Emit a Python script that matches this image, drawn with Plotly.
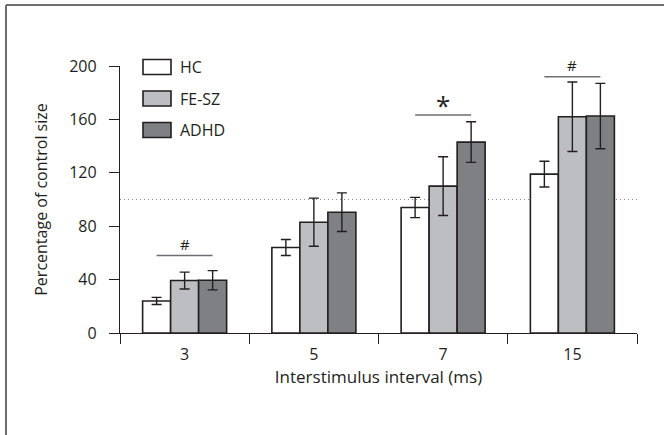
import plotly.graph_objects as go

categories = ["3", "5", "7", "15"]
groups = ["HC", "FE-SZ", "ADHD"]
hc = [24, 64, 94, 119]
hc_err = [2.7, 6, 7.6, 9.6]
fesz = [39.3, 83, 110, 162]
fesz_err = [6.3, 18, 22, 26]
adhd = [39.5, 90.5, 143, 162.5]
adhd_err = [7.2, 14.5, 15.2, 24.5]
sig_labels = ["#", "", "*", "#"]
sig_y = [58, None, 163.3, 192]
y_ticks = [0, 40, 80, 120, 160, 200]
reference_level = 100

INK = "#231f20"
FONT = "Open Sans"
colors = ["#ffffff", "#bdbec2", "#7f8084"]
values = [hc, fesz, adhd]
errors = [hc_err, fesz_err, adhd_err]
BARGAP = 0.35

fig = go.Figure()
for name, vals, errs, col in zip(groups, values, errors, colors):
    fig.add_trace(go.Bar(
        x=categories, y=vals, name=name,
        marker=dict(color=col, line=dict(color=INK, width=1.6)),
        error_y=dict(type="data", array=errs, visible=True,
                     color=INK, thickness=1.4, width=5),
        showlegend=False,
    ))

shapes = []
annotations = []
bw = (1 - BARGAP) / 3
for i, (lab, yv) in enumerate(zip(sig_labels, sig_y)):
    if yv is None:
        continue
    shapes.append(dict(type="line", xref="x", yref="y", x0=i - bw, x1=i + bw,
                       y0=yv, y1=yv, line=dict(color="#6d6e71", width=1.5)))
    if lab == "*":
        annotations.append(dict(x=i, y=yv, xref="x", yref="y", text=lab,
                                showarrow=False, yanchor="bottom", yshift=-10,
                                font=dict(family=FONT, size=26, color=INK)))
    else:
        annotations.append(dict(x=i, y=yv, xref="x", yref="y", text=lab,
                                showarrow=False, yanchor="bottom", yshift=0,
                                font=dict(family=FONT, size=15, color=INK)))

# reference dotted line
shapes.append(dict(type="line", xref="paper", yref="y", x0=0, x1=1,
                   y0=reference_level, y1=reference_level,
                   line=dict(color="#8a8a8a", width=1.2, dash="1px,3px"), layer="below"))

# custom legend
L, T = 120, 66
W, H = 517, 267
def px(xp):
    return (xp - L) / W
def py(yp):
    return (T + H - yp) / H
leg_y = [67, 98.5, 130]
for name, col, yc in zip(groups, colors, leg_y):
    shapes.append(dict(type="rect", xref="paper", yref="paper",
                       x0=px(143), x1=px(171), y0=py(yc - 7.5), y1=py(yc + 7.5),
                       fillcolor=col, line=dict(color=INK, width=1.6)))
    annotations.append(dict(x=px(178), y=py(yc), xref="paper", yref="paper",
                            text=name, showarrow=False, xanchor="left", yanchor="middle",
                            font=dict(family=FONT, size=16, color=INK)))

# frame (left and top edges)
shapes.append(dict(type="line", xref="paper", yref="paper", x0=px(6), x1=px(6),
                   y0=py(5), y1=py(440), line=dict(color="#6d6e71", width=2)))
shapes.append(dict(type="line", xref="paper", yref="paper", x0=px(6), x1=px(670),
                   y0=py(5), y1=py(5), line=dict(color="#6d6e71", width=2)))

fig.update_layout(
    width=664, height=435,
    margin=dict(l=L, r=664 - L - W, t=T, b=435 - T - H, autoexpand=False),
    paper_bgcolor="white", plot_bgcolor="white",
    barmode="group", bargap=BARGAP, bargroupgap=0,
    font=dict(family=FONT, size=16, color=INK),
    shapes=shapes, annotations=annotations,
    xaxis=dict(type="category", range=[-0.5, 3.5], tickson="boundaries",
               ticks="outside", ticklen=10, tickwidth=1.3, tickcolor=INK,
               showline=True, linecolor=INK, linewidth=1.3, showgrid=False,
               zeroline=False, tickfont=dict(size=16), ticklabelstandoff=7,
               title=dict(text="Interstimulus interval (ms)", standoff=6,
                          font=dict(size=17))),
    yaxis=dict(range=[0, 200], tickvals=y_ticks, ticks="outside", ticklen=10,
               tickwidth=1.3, tickcolor=INK, showline=True, linecolor=INK,
               linewidth=1.3, showgrid=False, zeroline=False,
               ticklabelstandoff=9, tickfont=dict(size=16),
               title=dict(text="Percentage of control size", standoff=17,
                          font=dict(size=16))),
)

fig.write_html("out.html", config={"displayModeBar": False},
               post_script="document.body.style.margin='0';")
